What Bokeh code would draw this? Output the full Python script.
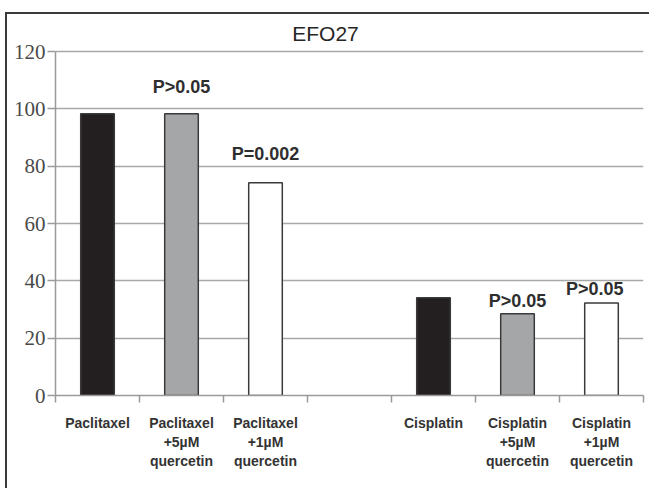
from bokeh.plotting import figure
from bokeh.models import FixedTicker, Label, ColumnDataSource
from bokeh.core.properties import value
from bokeh.embed import file_html
from bokeh.resources import INLINE

# ---- data ----
categories = ["Paclitaxel", "Paclitaxel\n+5\u00b5M\nquercetin", "Paclitaxel\n+1\u00b5M\nquercetin", "",
              "Cisplatin", "Cisplatin\n+5\u00b5M\nquercetin", "Cisplatin\n+1\u00b5M\nquercetin"]
values = [98.3, 98.3, 74.2, None, 34.1, 28.5, 32.3]
bar_colors = ["#231f20", "#a5a6a8", "#ffffff", None, "#231f20", "#a5a6a8", "#ffffff"]
p_labels = ["", "P>0.05", "P=0.002", "", "", "P>0.05", "P>0.05"]
p_label_y = [None, 107.6, 84.2, None, None, 33.0, 37.2]
y_ticks = [0, 20, 40, 60, 80, 100, 120]
title_text = "EFO27"

positions = list(range(1, len(categories) + 1))
bx = [x for x, v in zip(positions, values) if v is not None]
bv = [v for v in values if v is not None]
bc = [c for c, v in zip(bar_colors, values) if v is not None]
bars = ColumnDataSource(dict(x=bx, top=bv, color=bc))

tx = [x for x, t in zip(positions, p_labels) if t]
ty = [y for y, t in zip(p_label_y, p_labels) if t]
tt = [t for t in p_labels if t]
tx = [x - 0.08 if x == 7 else x for x in tx]
ann = ColumnDataSource(dict(x=tx, y=ty, text=tt))

frame_line = "#3a3a3a"
p = figure(width=649, height=488, output_backend="svg", toolbar_location=None,
           x_range=(0.5, 7.5), y_range=(0, 137.8),
           min_border_left=55, min_border_right=6, min_border_top=0, min_border_bottom=93,
           styles={"box-shadow": ("inset 0 12px 0 0 #ffffff, inset 5px 0 0 0 #ffffff, "
                                  f"inset 0 14px 0 0 {frame_line}, inset 7px 0 0 0 {frame_line}")})
p.outline_line_color = None
p.background_fill_color = None
p.border_fill_color = None

# gridlines
p.xgrid.grid_line_color = None
p.ygrid.grid_line_color = "#a8a8a8"
p.ygrid.grid_line_width = 1.6
p.ygrid.ticker = FixedTicker(ticks=y_ticks)

p.vbar(x="x", top="top", width=0.4, bottom=0, source=bars, fill_color="color",
       line_color="#3a3a3a", line_width=1.5)

p.text(x="x", y="y", text="text", source=ann, text_align="center", text_baseline="middle",
       text_font=value("Liberation Sans"), text_font_style="bold", text_font_size="18px",
       text_color="#2e2e2e")

# y axis
p.yaxis.ticker = FixedTicker(ticks=y_ticks)
p.yaxis.bounds = (0, 120)
p.yaxis.axis_line_color = "#9a9a9a"
p.yaxis.axis_line_width = 1.5
p.yaxis.major_tick_line_color = "#9a9a9a"
p.yaxis.major_tick_line_width = 1.5
p.yaxis.major_tick_out = 8
p.yaxis.major_tick_in = 0
p.yaxis.minor_tick_line_color = None
p.yaxis.major_label_standoff = 2
p.yaxis.major_label_text_font = "Liberation Serif"
p.yaxis.major_label_text_font_size = "21px"
p.yaxis.major_label_text_color = "#4a4a4a"

# x axis
p.xaxis.ticker = FixedTicker(ticks=[x for x, c in zip(positions, categories) if c],
                             minor_ticks=[x + 0.5 for x in [0] + positions])
p.xaxis.major_label_overrides = {x: c for x, c in zip(positions, categories) if c}
p.xaxis.axis_line_color = "#9a9a9a"
p.xaxis.axis_line_width = 1.5
p.xaxis.major_tick_line_color = None
p.xaxis.minor_tick_line_color = "#9a9a9a"
p.xaxis.minor_tick_line_width = 1.5
p.xaxis.minor_tick_out = 7
p.xaxis.minor_tick_in = 0
p.xaxis.major_tick_out = 7
p.xaxis.major_tick_in = 0
p.xaxis.major_label_standoff = 12
p.xaxis.major_label_text_font = "Liberation Sans"
p.xaxis.major_label_text_font_style = "bold"
p.xaxis.major_label_text_font_size = "14px"
p.xaxis.major_label_text_color = "#333333"

title = Label(x=3.714, y=126.3, text=title_text, text_align="center", text_baseline="middle",
              text_font="Liberation Sans", text_font_size="21px", text_color="#262626")
p.add_layout(title)

open("out.html", "w").write(file_html(p, INLINE))
